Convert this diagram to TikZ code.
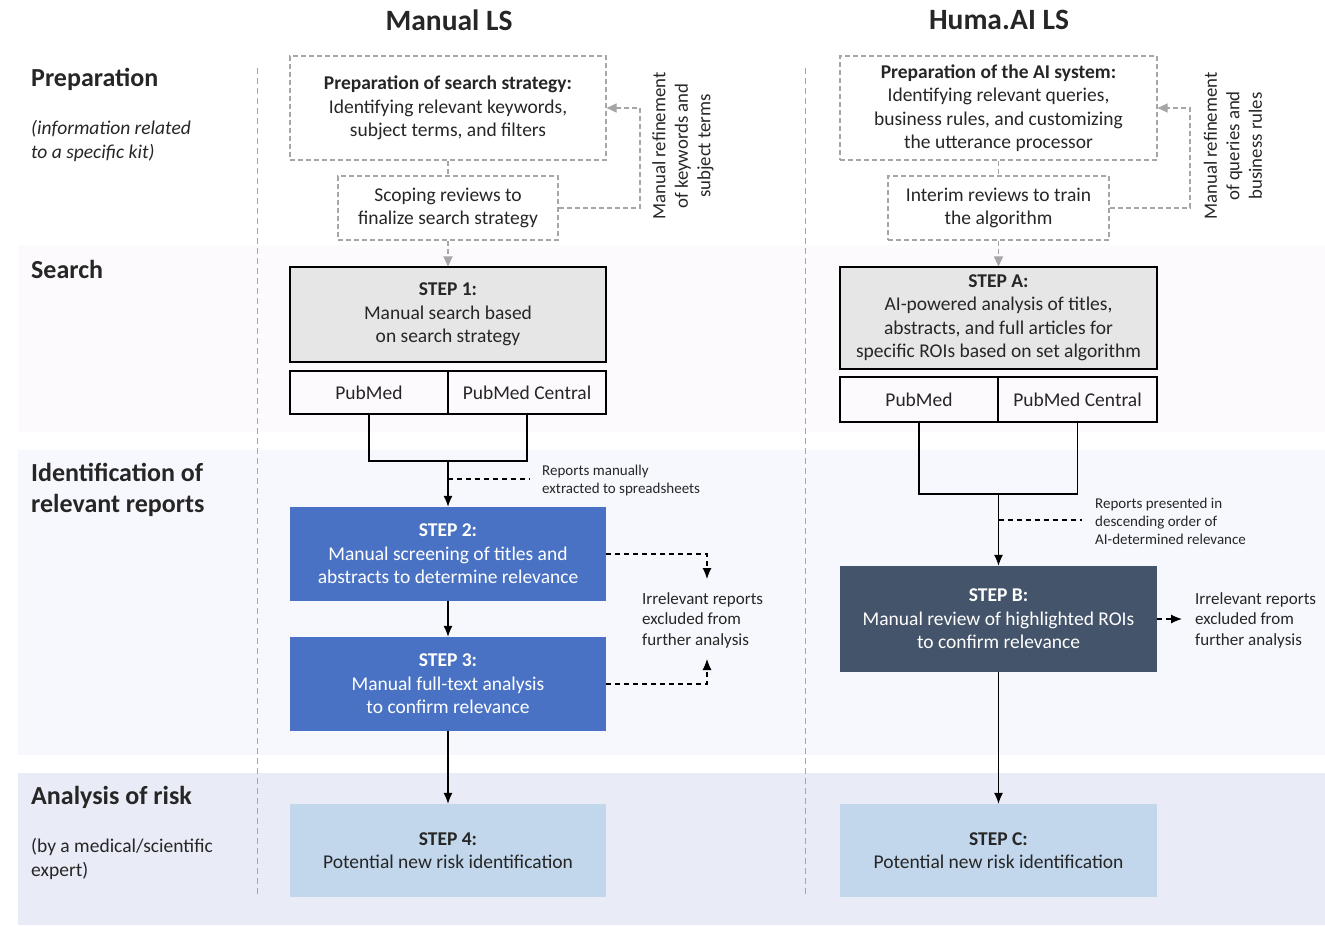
\documentclass[tikz,border=0pt]{standalone}
\usepackage{fontspec}
\setmainfont{Carlito}
\usetikzlibrary{arrows.meta,positioning}
\definecolor{textgray}{HTML}{262626}
\definecolor{linegray}{HTML}{A6A6A6}
\definecolor{stepgray}{HTML}{E6E6E6}
\definecolor{stepblue}{HTML}{4A72C4}
\definecolor{stepslate}{HTML}{44546A}
\definecolor{steplight}{HTML}{C2D7EC}
\definecolor{bandsearch}{HTML}{FCFAFC}
\definecolor{bandident}{HTML}{F7F8FD}
\definecolor{bandrisk}{HTML}{E9ECF6}
\tikzset{
  body/.style={font=\fontsize{19.5}{23.5}\selectfont, text=textgray},
  prepbox/.style={body, draw=linegray, line width=1.1pt, dash pattern=on 5pt off 3pt, align=center, inner sep=0pt},
  stepbox/.style={body, draw=black, line width=1.1pt, minimum width=316pt, align=center, inner sep=0pt},
  dbbox/.style={body, draw=black, line width=1.1pt, align=center, inner sep=0pt},
  fillbox/.style={body, minimum width=316pt, align=center, inner sep=0pt},
  graylink/.style={draw=linegray, line width=1.1pt, dash pattern=on 5pt off 3pt},
  grayarrow/.style={graylink, -{Triangle[length=10pt,width=9pt,fill=linegray]}},
  flow/.style={draw=black, line width=1.1pt, -{Latex[length=11pt,width=9pt]}},
  noteline/.style={draw=black, line width=1.1pt, dash pattern=on 5pt off 4pt},
  notearrow/.style={noteline, -{Latex[length=11pt,width=9pt]}},
  rowlabel/.style={anchor=west, align=left, inner sep=0pt, text=textgray, font=\fontsize{26}{31}\selectfont\bfseries},
  rownote/.style={anchor=west, align=left, inner sep=0pt, text=textgray, font=\fontsize{19.5}{24}\selectfont},
  note/.style={anchor=west, align=left, inner sep=0pt, text=textgray, font=\fontsize{15}{18}\selectfont},
  sidenote/.style={anchor=west, align=left, inner sep=0pt, text=textgray, font=\fontsize{17}{20.5}\selectfont},
  refine/.style={rotate=90, align=center, inner sep=0pt, text=textgray, font=\fontsize{18.8}{22.5}\selectfont},
}
\begin{document}
\begin{tikzpicture}[x=1pt, y=-1pt]
			%%%%% START %%%%%
			\useasboundingbox (0,0) rectangle (1325,926);
			
			\fill[bandsearch] (18,245) rectangle (1325,432);
			\fill[bandident] (18,450) rectangle (1325,755);
			\fill[bandrisk] (18,773) rectangle (1325,925);
			
			\draw[linegray, line width=1pt, dash pattern=on 6pt off 4pt] (257,68) -- (257,897);
			\draw[linegray, line width=1pt, dash pattern=on 6pt off 4pt] (805,68) -- (805,897);
			
			\node[text=textgray, font=\fontsize{29.5}{33}\selectfont\bfseries] (manual) at (449,20) {Manual LS};
			\node[text=textgray, font=\fontsize{29.5}{33}\selectfont\bfseries] (huma) at (999,20) {Huma.AI LS};
			
			\node[rowlabel] (rowprep) at (31,79) {Preparation};
			\node[rownote, font=\fontsize{19.5}{24}\selectfont\itshape] (rowprepnote) at (31,141) {(information related\\to a specific kit)};
			\node[rowlabel] (rowsearch) at (31,269) {Search};
			\node[rowlabel] (rowident) at (31,490) {Identification of\\relevant reports};
			\node[rowlabel] (rowrisk) at (31,797) {Analysis of risk};
			\node[rownote] (rowrisknote) at (31,859) {(by a medical/scientific\\expert)};
			
			% manual LS
			\node[prepbox, minimum width=316pt, minimum height=104pt] (prep) at (448,108) {\textbf{Preparation of search strategy:}\\Identifying relevant keywords,\\subject terms, and filters};
			\node[prepbox, minimum width=220pt, minimum height=64pt] (scope) at (448,208) {Scoping reviews to\\finalize search strategy};
			\node[refine] (refineone) at (683,146) {Manual refinement\\of keywords and\\subject terms};
			\coordinate (fbone) at (640,108);
			\draw[graylink] (prep.south) -- (scope.north);
			\draw[grayarrow] (scope.east) -| (fbone) -- (prep.east);
			
			\node[stepbox, fill=stepgray, minimum height=95pt] (stepone) at (448,314.5) {\textbf{STEP 1:}\\Manual search based\\on search strategy};
			\draw[grayarrow] (scope.south) -- (stepone.north);
			\node[dbbox, minimum width=158pt, minimum height=43pt] (pubmed) at (369,392.5) {PubMed};
			\node[dbbox, minimum width=158pt, minimum height=43pt] (pmc) at (527,392.5) {PubMed Central};
			
			\node[fillbox, fill=stepblue, text=white, minimum height=94pt] (steptwo) at (448,554) {\textbf{STEP 2:}\\Manual screening of titles and\\abstracts to determine relevance};
			\node[fillbox, fill=stepblue, text=white, minimum height=94pt] (stepthree) at (448,684) {\textbf{STEP 3:}\\Manual full-text analysis\\to confirm relevance};
			\node[fillbox, fill=steplight, minimum height=93pt] (stepfour) at (448,850.5) {\textbf{STEP 4:}\\Potential new risk identification};
			
			\coordinate (joinone) at (448,461);
			\draw[line width=1.1pt] (pubmed.south) |- (joinone) -| (pmc.south);
			\draw[flow] (joinone) -- (steptwo.north);
			\coordinate (noteone) at (530,479);
			\draw[noteline] (noteone -| joinone) -- (noteone);
			\node[note] (extracted) at (542,480) {Reports manually\\extracted to spreadsheets};
			
			\draw[flow] (steptwo.south) -- (stepthree.north);
			\draw[flow] (stepthree.south) -- (stepfour.north);
			\coordinate (droptwo) at (707,579);
			\coordinate (dropthree) at (707,659);
			\draw[notearrow] (steptwo.east) -| (droptwo);
			\draw[notearrow] (stepthree.east) -| (dropthree);
			\node[sidenote] (irrone) at (642,620) {Irrelevant reports\\excluded from\\further analysis};
			
			% Huma.AI LS
			\node[prepbox, minimum width=317pt, minimum height=104pt] (prepai) at (998.5,108) {\textbf{Preparation of the AI system:}\\Identifying relevant queries,\\business rules, and customizing\\the utterance processor};
			\node[prepbox, minimum width=221pt, minimum height=64pt] (interim) at (998.5,208) {Interim reviews to train\\the algorithm};
			\node[refine] (refinetwo) at (1233,146) {Manual refinement\\of queries and\\business rules};
			\coordinate (fbtwo) at (1190,108);
			\draw[graylink] (prepai.south) -- (interim.north);
			\draw[grayarrow] (interim.east) -| (fbtwo) -- (prepai.east);
			
			\node[stepbox, fill=stepgray, minimum width=317pt, minimum height=102pt] (stepa) at (998.5,318) {\textbf{STEP A:}\\AI-powered analysis of titles,\\abstracts, and full articles for\\specific ROIs based on set algorithm};
			\draw[grayarrow] (interim.south) -- (stepa.north);
			\node[dbbox, minimum width=158pt, minimum height=45pt] (pubmedb) at (919,399.5) {PubMed};
			\node[dbbox, minimum width=159pt, minimum height=45pt] (pmcb) at (1077.5,399.5) {PubMed Central};
			
			\node[fillbox, fill=stepslate, text=white, minimum width=317pt, minimum height=106pt] (stepb) at (998.5,619) {\textbf{STEP B:}\\Manual review of highlighted ROIs\\to confirm relevance};
			\node[fillbox, fill=steplight, minimum width=317pt, minimum height=93pt] (stepc) at (998.5,850.5) {\textbf{STEP C:}\\Potential new risk identification};
			
			\coordinate (jointwo) at (998.5,494);
			\draw[line width=1.1pt] (pubmedb.south) |- (jointwo) -| (pmcb.south);
			\draw[flow] (jointwo) -- (stepb.north);
			\coordinate (notetwo) at (1082,520);
			\draw[noteline] (notetwo -| jointwo) -- (notetwo);
			\node[note] (presented) at (1095,521) {Reports presented in\\descending order of\\AI-determined relevance};
			
			\draw[flow] (stepb.south) -- (stepc.north);
			\coordinate (dropb) at (1182,619);
			\draw[notearrow] (stepb.east) -- (dropb);
			\node[sidenote] (irrtwo) at (1195,620) {Irrelevant reports\\excluded from\\further analysis};
			%%%%% END %%%%%
		\end{tikzpicture}
\end{document}
